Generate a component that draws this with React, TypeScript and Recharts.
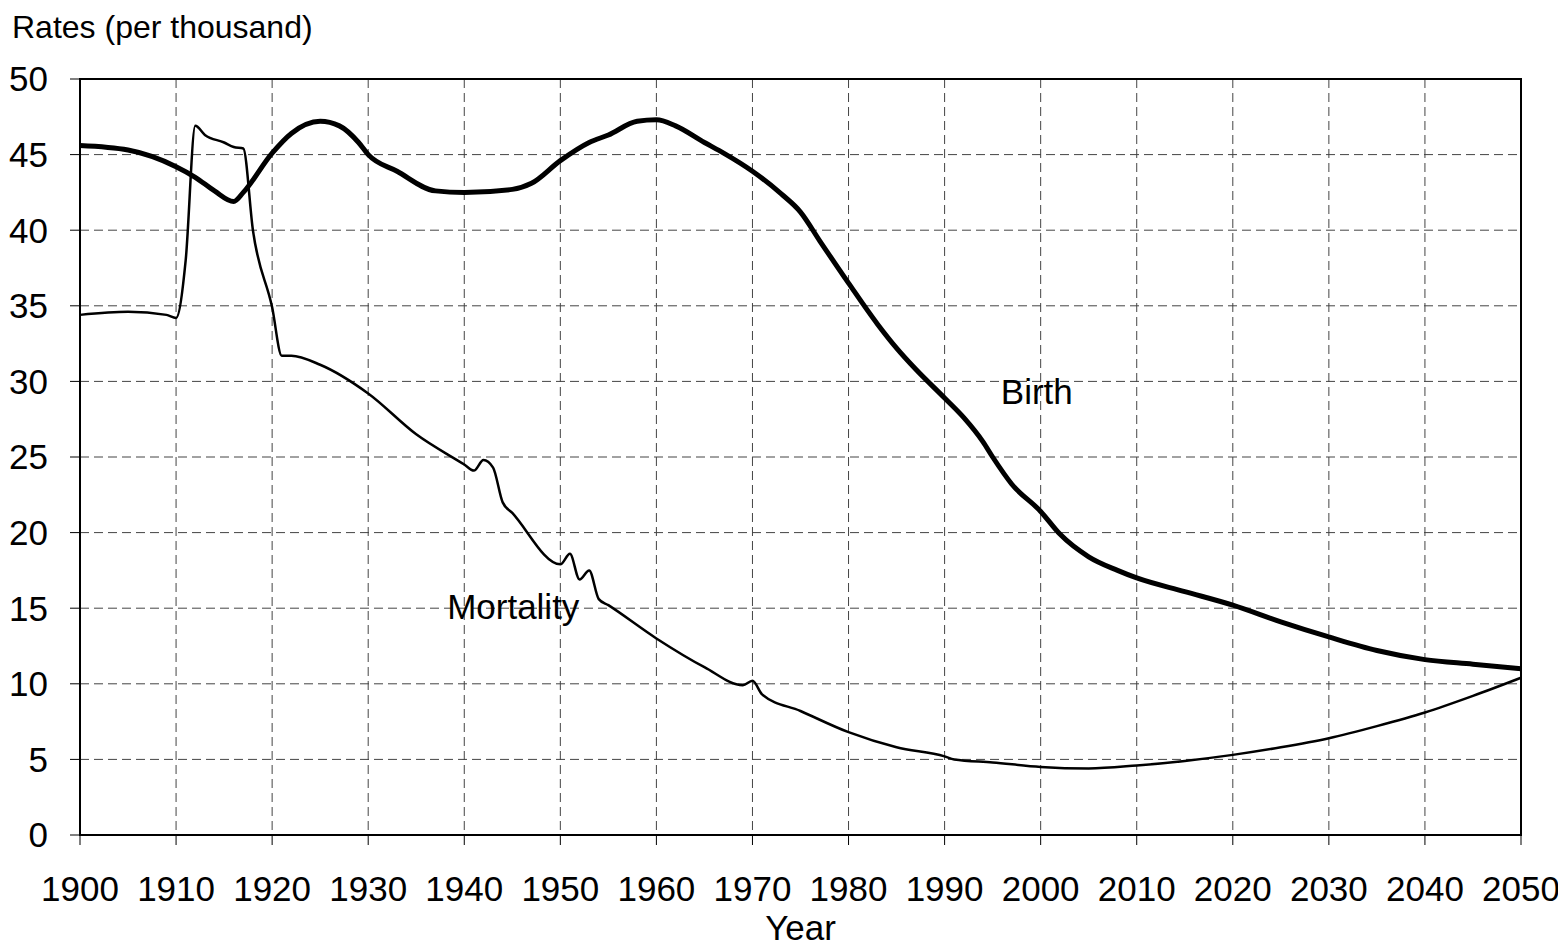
import React from "react";
import {
  LineChart,
  Line,
  XAxis,
  YAxis,
  CartesianGrid,
  ReferenceArea,
  ReferenceDot,
  Label,
} from "recharts";

const birthYears = [1900, 1905, 1910, 1912, 1914, 1916, 1917, 1920, 1922, 1925, 1927, 1929, 1930, 1933, 1937, 1940, 1945, 1947, 1950, 1953, 1955, 1958, 1960, 1962, 1965, 1967, 1970, 1973, 1975, 1977, 1980, 1983, 1985, 1987, 1990, 1992, 1994, 1995, 1997, 2000, 2002, 2005, 2008, 2010, 2015, 2020, 2025, 2030, 2035, 2040, 2045, 2050];
const birthValues = [45.6, 45.3, 44.2, 43.5, 42.6, 41.9, 42.5, 45.1, 46.4, 47.2, 46.9, 45.8, 45.0, 43.9, 42.6, 42.5, 42.7, 43.1, 44.6, 45.8, 46.3, 47.2, 47.3, 46.9, 45.8, 45.1, 43.9, 42.4, 41.2, 39.3, 36.5, 33.8, 32.2, 30.8, 28.9, 27.6, 26.0, 25.0, 23.2, 21.4, 19.9, 18.4, 17.5, 17.0, 16.1, 15.2, 14.1, 13.1, 12.2, 11.6, 11.3, 11.0];

const mortYears = [1900, 1905, 1909, 1910, 1911, 1912, 1913, 1915, 1916, 1917, 1918, 1920, 1921, 1922, 1925, 1930, 1935, 1940, 1941, 1942, 1943, 1944, 1945, 1950, 1951, 1952, 1953, 1954, 1955, 1960, 1965, 1969, 1970, 1971, 1975, 1980, 1985, 1990, 1991, 1995, 2000, 2005, 2010, 2015, 2020, 2025, 2030, 2035, 2040, 2045, 2050];
const mortValues = [34.4, 34.6, 34.4, 34.2, 38.0, 46.9, 46.3, 45.8, 45.5, 45.4, 40.0, 34.9, 31.7, 31.7, 31.1, 29.2, 26.5, 24.5, 24.1, 24.8, 24.3, 22.0, 21.3, 17.9, 18.6, 16.9, 17.5, 15.6, 15.2, 13.0, 11.1, 9.9, 10.2, 9.3, 8.2, 6.8, 5.8, 5.2, 5.0, 4.8, 4.5, 4.4, 4.6, 4.9, 5.3, 5.8, 6.4, 7.2, 8.1, 9.2, 10.4];

const xTicks = [1900, 1910, 1920, 1930, 1940, 1950, 1960, 1970, 1980, 1990, 2000, 2010, 2020, 2030, 2040, 2050];
const yTicks = [0, 5, 10, 15, 20, 25, 30, 35, 40, 45, 50];

const birthData = birthYears.map((year, i) => ({ year, birth: birthValues[i] }));
const mortData = mortYears.map((year, i) => ({ year, mortality: mortValues[i] }));

const FONT = "Liberation Sans, Arial, sans-serif";

export default function App() {
  return (
    <div style={{ position: "relative", width: 1558, height: 938, fontFamily: FONT }}>
      <div
        style={{
          position: "absolute",
          left: 4,
          top: 1,
          fontSize: 32,
          fontFamily: FONT,
          color: "#000",
          whiteSpace: "nowrap",
        }}
      >
        Rates (per thousand)
      </div>
      <LineChart
        width={1558}
        height={938}
        margin={{ top: 71, right: 45, left: 12, bottom: 0 }}
        style={{ fontFamily: FONT, overflow: "visible" }}
      >
        <CartesianGrid
          stroke="#444"
          strokeDasharray="9 5"
          strokeWidth={1}
          horizontalValues={yTicks}
          verticalValues={xTicks}
        />
        <XAxis
          dataKey="year"
          type="number"
          domain={[1900, 2050]}
          ticks={xTicks}
          allowDuplicatedCategory={false}
          height={111}
          tickSize={10}
          tickMargin={31}
          stroke="#000"
          strokeWidth={2}
          tick={{ fill: "#000", fontSize: 35, fontFamily: FONT }}
          tickLine={{ stroke: "#000", strokeWidth: 1 }}
          interval={0}
        >
          <Label
            value="Year"
            position="insideBottom"
            offset={6}
            style={{ fill: "#000", fontSize: 35, fontFamily: FONT }}
          />
        </XAxis>
        <YAxis
          type="number"
          domain={[0, 50]}
          ticks={yTicks}
          width={60}
          tickSize={10}
          tickMargin={22}
          stroke="#000"
          strokeWidth={2}
          tick={{ fill: "#000", fontSize: 35, fontFamily: FONT }}
          tickLine={{ stroke: "#000", strokeWidth: 1 }}
          interval={0}
        />
        <ReferenceArea
          x1={1900}
          x2={2050}
          y1={0}
          y2={50}
          fill="none"
          fillOpacity={0}
          stroke="#000"
          strokeWidth={2}
          ifOverflow="visible"
        />
        <Line
          data={mortData}
          dataKey="mortality"
          type="monotone"
          stroke="#000"
          strokeWidth={2.5}
          dot={false}
          isAnimationActive={false}
        />
        <Line
          data={birthData}
          dataKey="birth"
          type="monotone"
          stroke="#000"
          strokeWidth={5}
          dot={false}
          isAnimationActive={false}
        />
        <ReferenceDot
          x={1999.6}
          y={29.3}
          r={0}
          fill="none"
          stroke="none"
          label={{ value: "Birth", position: "center", fill: "#000", fontSize: 35, fontFamily: FONT }}
        />
        <ReferenceDot
          x={1945.1}
          y={15.1}
          r={0}
          fill="none"
          stroke="none"
          label={{ value: "Mortality", position: "center", fill: "#000", fontSize: 35, fontFamily: FONT }}
        />
      </LineChart>
    </div>
  );
}
